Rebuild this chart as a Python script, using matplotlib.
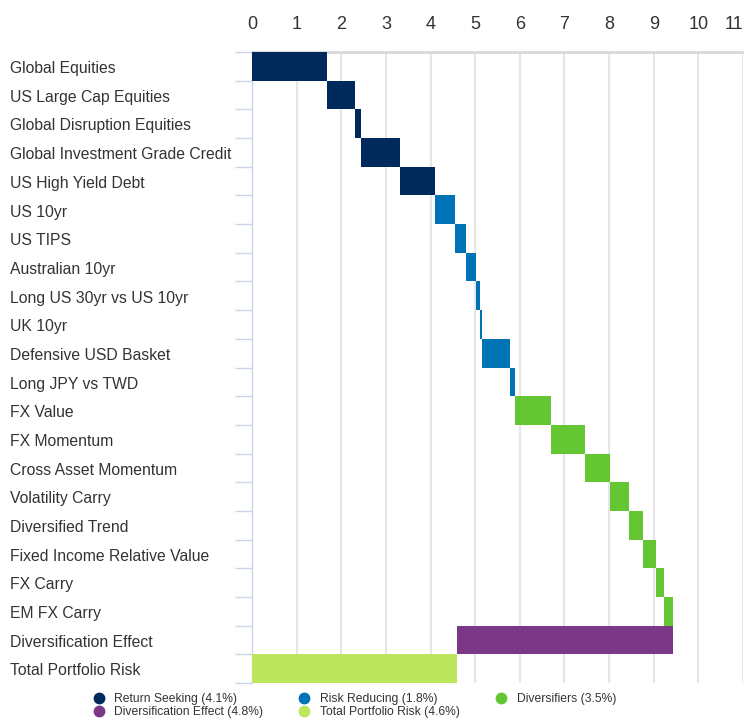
import numpy as np
import matplotlib
matplotlib.use('Agg')
import matplotlib.pyplot as plt
from matplotlib.lines import Line2D
from matplotlib.transforms import blended_transform_factory

plt.rcParams['font.family'] = ['Liberation Sans', 'DejaVu Sans']

labels = ["Global Equities", "US Large Cap Equities", "Global Disruption Equities",
          "Global Investment Grade Credit", "US High Yield Debt",
          "US 10yr", "US TIPS", "Australian 10yr", "Long US 30yr vs US 10yr",
          "UK 10yr", "Defensive USD Basket", "Long JPY vs TWD",
          "FX Value", "FX Momentum", "Cross Asset Momentum", "Volatility Carry",
          "Diversified Trend", "Fixed Income Relative Value", "FX Carry", "EM FX Carry",
          "Diversification Effect", "Total Portfolio Risk"]

# risk contributions (%)
return_seeking = [1.67, 0.63, 0.14, 0.87, 0.79]
risk_reducing = [0.45, 0.24, 0.22, 0.10, 0.04, 0.62, 0.13]
diversifiers = [0.79, 0.78, 0.54, 0.43, 0.33, 0.27, 0.18, 0.21]
diversification_effect = -4.83
total_risk = 4.60

groups = ["Return Seeking (4.1%)", "Risk Reducing (1.8%)", "Diversifiers (3.5%)",
          "Diversification Effect (4.8%)", "Total Portfolio Risk (4.6%)"]
colors = ["#002a5c", "#0073b6", "#65c633", "#7b3886", "#bde65c"]

fig = plt.figure(figsize=(7.44, 7.2), dpi=100)
ax = fig.add_axes([252 / 744, 1 - 683 / 720, 491 / 744, 631 / 720])

vals = return_seeking + risk_reducing + diversifiers
cols = ([colors[0]] * len(return_seeking) + [colors[1]] * len(risk_reducing)
        + [colors[2]] * len(diversifiers))
starts = np.concatenate([[0], np.cumsum(vals)[:-1]])
y = np.arange(len(vals))
ax.barh(y, vals, left=starts, height=1.0, color=cols, zorder=3)

end = np.sum(vals)
ax.barh(len(vals), diversification_effect, left=end, height=1.0, color=colors[3], zorder=3)
ax.barh(len(vals) + 1, total_risk, left=0, height=1.0, color=colors[4], zorder=3)

ax.set_ylim(len(labels) - 0.5, -0.5)
ax.set_xlim(0, 11)
ax.set_xticks(range(12))
ax.xaxis.tick_top()
ax.tick_params(axis='x', length=0, labelsize=13, labelcolor='#333333', pad=14)
ax.get_xticklabels()[-1].set_horizontalalignment('right')

# row boundary ticks + labels between them
ax.set_yticks(np.arange(len(labels) + 1) - 0.5)
ax.set_yticklabels([])
ax.tick_params(axis='y', which='major', length=12, color='#ccd6eb', width=1)
trans = blended_transform_factory(ax.transAxes, ax.transData)
for i, lab in enumerate(labels):
    ax.text(-242 / 491, i + 0.08, lab, transform=trans, ha='left', va='center',
            fontsize=11.3, color='#333333')

ax.grid(axis='x', color='#e6e6e6', linewidth=1.5, zorder=0)
for s in ['right', 'bottom']:
    ax.spines[s].set_visible(False)
ax.spines['top'].set_color('#d8d8d8')
ax.spines['top'].set_linewidth(2)
ax.spines['left'].set_color('#ccd6eb')
ax.spines['left'].set_linewidth(1)

# legend filled column-wise, so order items to read row-wise
order = [0, 3, 1, 4, 2]
handles = [Line2D([], [], marker='o', linestyle='none', markersize=7.5,
                  markerfacecolor=colors[i], markeredgecolor=colors[i]) for i in order]
fig.legend(handles, [groups[i] for i in order], loc='lower left',
           bbox_to_anchor=(84 / 744, -0.009),
           ncol=3, frameon=False, fontsize=8.7, handletextpad=0.8,
           columnspacing=2.9, labelspacing=0.1, handlelength=1.0,
           labelcolor='#333333', borderaxespad=0.3)

fig.savefig("out.png", dpi=100)
